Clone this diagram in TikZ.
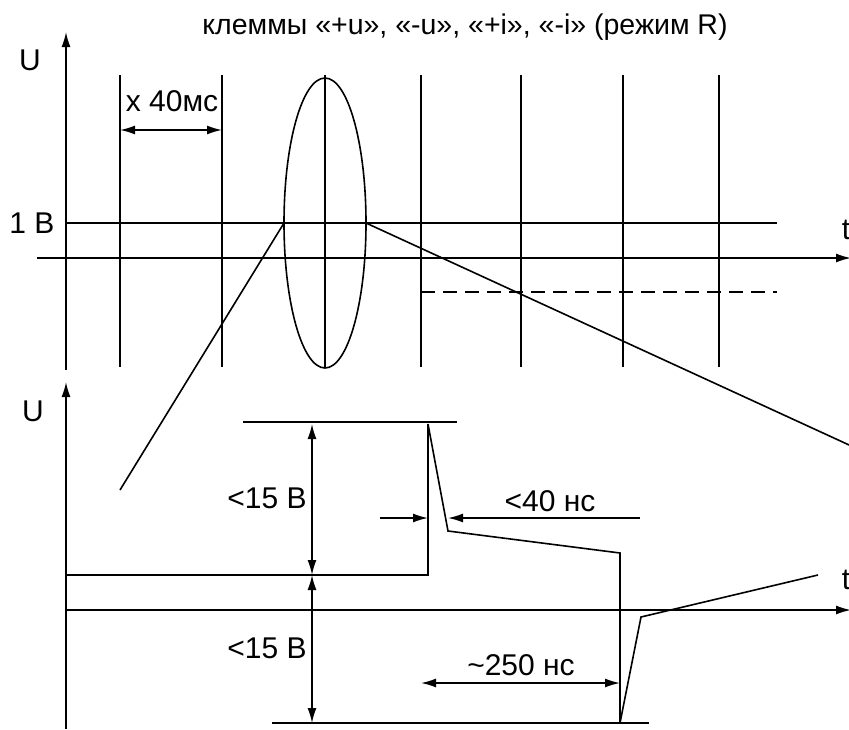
\documentclass[tikz,border=0pt]{standalone}
\usepackage{fontspec}
\setmainfont{Liberation Sans}
\usetikzlibrary{arrows.meta}
\begin{document}
\begin{tikzpicture}[x=1pt,y=-1pt,
  line width=1.6pt,
  tip/.style={-{Latex[length=15pt,width=9pt]}},
  dtip/.style={{Latex[length=15pt,width=9pt]}-{Latex[length=15pt,width=9pt]}},
  lbl/.style={font=\fontsize{30}{34}\selectfont, inner sep=0pt},
  ttl/.style={font=\fontsize{28.5}{32}\selectfont, inner sep=0pt}]
\useasboundingbox (0,0) rectangle (849,729);
% ---- top diagram ----
\node[ttl] (title) at (465,27) {клеммы «+u», «-u», «+i», «-i» (режим R)};
\coordinate (u1b) at (66,370);
\coordinate (u1t) at (66,32);
\draw[tip] (u1b) -- (u1t);
\node[lbl] (U1) at (30,60) {U};
\coordinate (t1l) at (37,258);
\coordinate (t1r) at (851,258);
\draw[tip] (t1l) -- (t1r);
\node[lbl,anchor=west] (T1) at (841,230) {t};
% 1 B line
\draw (66,223) -- (777,223);
\node[lbl] (oneB) at (32,223) {1 B};
% dashed
\draw[dash pattern=on 14pt off 8pt] (421,292) -- (777,292);
% vertical grid
\foreach \x in {120,222,325,421,521,623,719}
  \draw (\x,75) -- (\x,367);
% 40 ms
\draw[dtip] (120,130) -- (222,130);
\node[lbl] (ms) at (172,101) {x 40мс};
% ellipse
\draw (325,223) ellipse [x radius=41, y radius=145];
\coordinate (eL) at (284,223);
\coordinate (eR) at (366,223);
\draw (eL) -- (120,490);
\draw (eR) -- (860,450);
% ---- bottom diagram ----
\coordinate (u2b) at (66,729);
\coordinate (u2t) at (66,382);
\draw[tip] (u2b) -- (u2t);
\node[lbl] (U2) at (33,411) {U};
\coordinate (t2l) at (66,610);
\coordinate (t2r) at (851,610);
\draw[tip] (t2l) -- (t2r);
\node[lbl,anchor=west] (T2) at (841,580) {t};
% reference lines
\draw (243,422) -- (457,422);
\draw (272,723) -- (649,723);
% signal
\draw (66,575) -- (428,575) -- (428,424) -- (448,531) -- (620,553) -- (620,723) -- (641,617) -- (818,575);
% dimension arrows
\draw[dtip] (312,424) -- (312,575);
\draw[dtip] (312,575) -- (312,723);
\node[lbl] (v1) at (267,498) {<15 B};
\node[lbl] (v2) at (267,648) {<15 B};
\draw[tip] (380,518) -- (428,518);
\draw[tip] (640,518) -- (448,518);
\node[lbl] (ns40) at (550,501) {<40 нс};
\draw[dtip] (421,683) -- (620,683);
\node[lbl] (ns250) at (521,665) {\textasciitilde250 нс};
\end{tikzpicture}
\end{document}
